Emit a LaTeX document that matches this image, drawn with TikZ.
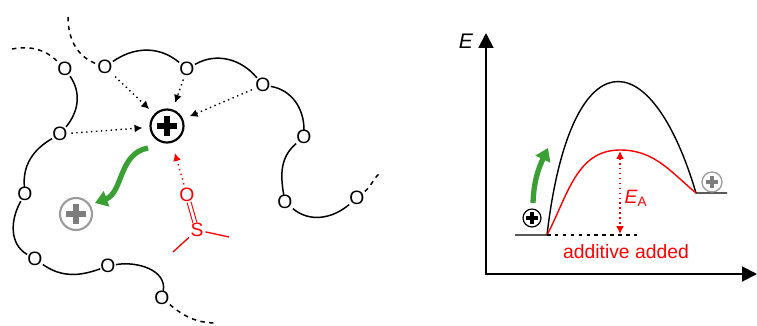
\documentclass[tikz,border=0pt]{standalone}
\usepackage{fontspec}
\setmainfont{Liberation Sans}
\usetikzlibrary{arrows.meta}
\definecolor{movegreen}{RGB}{58,160,52}
\definecolor{ringgray}{RGB}{155,155,155}
\definecolor{crossgray}{RGB}{125,125,125}
\tikzset{
  atom/.style={inner sep=0pt, font=\fontsize{11}{11}\selectfont},
  chain/.style={line width=0.85pt},
  tail/.style={chain, dash pattern=on 2.5pt off 2.5pt},
  pull/.style={line width=0.8pt, dotted, -{Latex[length=4.5pt,width=4.5pt]},
    shorten <=2pt, shorten >=4pt},
  move/.style={movegreen, line width=3pt, -{Triangle[length=7pt,width=9pt]}},
  energy/.style={line width=0.8pt},
  axis/.style={line width=1.1pt, {Triangle[length=8.5pt,width=8.5pt]}-{Triangle[length=8.5pt,width=8.5pt]}},
}
% charged species: name, position, radius (px), ring colour, cross colour
\newcommand\cation[5]{%
  \node[circle, draw=#4, line width=#3*0.075pt, minimum size=#3*0.04cm, inner sep=0pt] (#1) at #2 {};
  \draw[#5, line width=#3*0.2pt] (#1.center) +(-0.62*#3,0) -- +(0.62*#3,0)
    +(0,-0.62*#3) -- +(0,0.62*#3);
}

\begin{document}
\begin{tikzpicture}[x=0.02cm, y=-0.02cm]
  \useasboundingbox (0,0) rectangle (757,325);

  % the polymer chains
  \node[atom] (o1) at (65,69) {O};
  \node[atom] (o2) at (105,67) {O};
  \node[atom] (o3) at (187,69) {O};
  \node[atom] (o4) at (263,85) {O};
  \node[atom] (o5) at (304,137) {O};
  \node[atom] (o6) at (285,202) {O};
  \node[atom] (o7) at (357,198) {O};
  \node[atom] (o8) at (60,134) {O};
  \node[atom] (o9) at (25,194) {O};
  \node[atom] (o10) at (35,259) {O};
  \node[atom] (o11) at (108,266) {O};
  \node[atom] (o12) at (162,298) {O};
  \coordinate (a0) at (12,49);
  \coordinate (a9) at (217,323);
  \coordinate (b0) at (68,17);
  \coordinate (b9) at (380,173);

  \draw[tail] (a0) to[out=10,in=135] (o1);
  \draw[chain] (o1) to[out=-55,in=50] (o8) to[out=210,in=95] (o9)
    to[out=240,in=150] (o10) to[out=-35,in=200] (o11) to[out=10,in=80] (o12);
  \draw[tail] (o12) to[out=-40,in=180] (a9);

  \draw[tail] (b0) to[out=-90,in=160] (o2);
  \draw[chain] (o2) to[out=35,in=140] (o3) to[out=30,in=130] (o4)
    to[out=-10,in=90] (o5) to[out=220,in=100] (o6) to[out=-40,in=220] (o7);
  \draw[tail] (o7) to[out=40,in=220] (b9);

  % the cation and where it goes
  \cation{pc}{(167,126)}{16.5}{black}{black}
  \cation{pg}{(76,214)}{16}{ringgray}{crossgray}
  \draw[pull] (o2) -- (pc);
  \draw[pull] (o3) -- (pc);
  \draw[pull] (o4) -- (pc);
  \draw[pull] (o8) -- (pc);

  \coordinate (m0) at (148,148);
  \coordinate (m1) at (95,203);
  \draw[move] (m0) to[out=190,in=20] (m1);

  % DMSO
  \node[atom, red] (so) at (187,195) {O};
  \node[atom, red] (ss) at (197,230) {S};
  \coordinate (me1) at (173,252);
  \coordinate (me2) at (229,237);
  \draw[red, double, double distance=1.6pt, line width=0.6pt] (so) -- (ss);
  \draw[red, line width=0.75pt, shorten <=1pt] (ss) -- (me1);
  \draw[red, line width=0.75pt, shorten <=1pt] (ss) -- (me2);
  \draw[pull, red, shorten >=6pt] (so) -- (pc);

  % energy diagram
  \coordinate (org) at (486,274);
  \coordinate (ytop) at (486,33);
  \coordinate (xend) at (757,274);
  \draw[axis] (ytop) -- (org) -- (xend);
  \node[font=\fontsize{12}{12}\selectfont\itshape] (elab) at (466,41) {E};

  \coordinate (s0) at (547,235);
  \coordinate (s1) at (696,193);
  \coordinate (ptop) at (620,150);
  \draw[energy] (515,235) -- (s0) .. controls (570,38) and (650,38) .. (s1) -- (727,193);
  \draw[energy, red] (s0) to[out=62,in=180] (ptop) to[out=0,in=140] (s1);
  \draw[line width=0.8pt, dash pattern=on 2pt off 2.5pt] (s0) -- (637,235);

  \coordinate (rtop) at (620,151);
  \coordinate (rbot) at (620,234);
  \draw[red, line width=0.8pt, dotted, {Latex[length=4.5pt,width=4.5pt]}-{Latex[length=4.5pt,width=4.5pt]}] (rtop) -- (rbot);
  \node[red, font=\fontsize{11}{11}\selectfont] (ea) at (636,198) {\itshape E\textsubscript{\upshape A}};
  \node[red, font=\fontsize{11}{11}\selectfont] (addlab) at (626,252) {additive added};

  \cation{pl}{(532,218)}{9}{black}{black}
  \cation{pr}{(712,182)}{10}{ringgray}{crossgray}
  \coordinate (g0) at (533,203);
  \coordinate (g1) at (548,148);
  \draw[move] (g0) to[out=88,in=245] (g1);
\end{tikzpicture}
\end{document}
